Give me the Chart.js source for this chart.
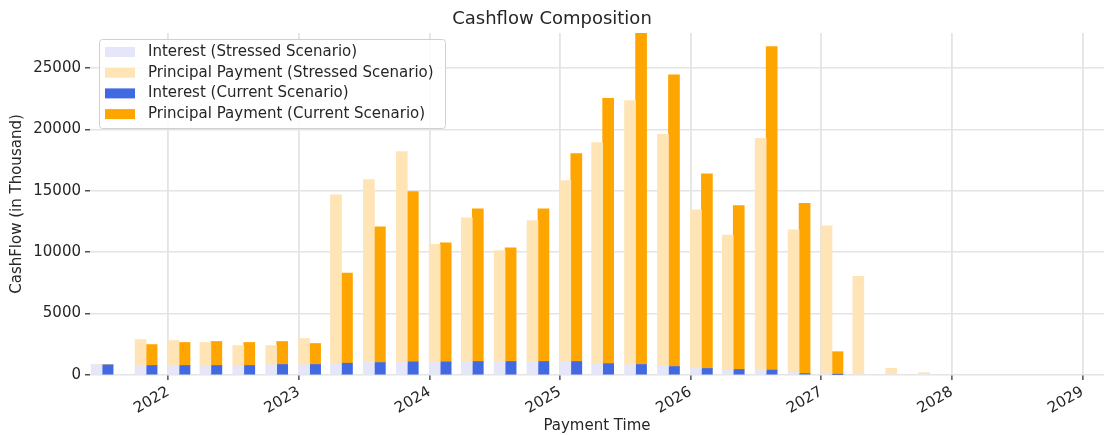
<!DOCTYPE html>
<html>
<head>
<meta charset="utf-8">
<title>Cashflow Composition</title>
<script src="https://cdn.jsdelivr.net/npm/chart.js@4.4.1/dist/chart.umd.min.js"></script>
<style>
  html, body { margin: 0; padding: 0; background: #fff; }
  #wrap { width: 1104px; height: 435px; position: relative; }
</style>
</head>
<body>
<div id="wrap"><canvas id="cf"></canvas></div>
<script>
'use strict';

// ── Data (values in thousand) ─────────────────────────
const stressedDates = [
    '2021-06-30', '2021-10-31', '2022-01-31', '2022-04-30', '2022-07-31', '2022-10-31',
    '2023-01-31', '2023-04-30', '2023-07-31', '2023-10-31', '2024-01-31', '2024-04-30',
    '2024-07-31', '2024-10-31', '2025-01-31', '2025-04-30', '2025-07-31', '2025-10-31',
    '2026-01-31', '2026-04-30', '2026-07-31', '2026-10-31', '2027-01-31', '2027-04-30',
    '2027-07-31', '2027-10-31',
];
const stressedInterest = [
    850, 775, 775, 760, 760, 830, 830, 935, 1015, 1015, 1015, 1040,
    1040, 1040, 1040, 920, 830, 720, 530, 425, 370, 230, 160, 90, 40, 15,
];
const stressedPrincipal = [
    0, 2115, 2035, 1890, 1640, 1570, 2140, 13740, 14905, 17185, 9635, 11760,
    9100, 11540, 14800, 18010, 21520, 18880, 12930, 10960, 18910, 11590, 11990, 7955, 510, 185,
];

const currentDates = stressedDates.slice(0, 23);
const currentInterest = [
    830, 775, 775, 775, 775, 855, 855, 960, 1015, 1070, 1070, 1100,
    1100, 1100, 1100, 920, 855, 690, 530, 450, 400, 120, 40,
];
const currentPrincipal = [
    0, 1705, 1875, 1955, 1875, 1875, 1710, 7330, 11055, 13870, 9695, 12430,
    9255, 12430, 16940, 21620, 27000, 23750, 15850, 13350, 26350, 13850, 1860,
];

const yearTicks  = [2022, 2023, 2024, 2025, 2026, 2027, 2028, 2029];
const valueTicks = [0, 5000, 10000, 15000, 20000, 25000];

// ── Helpers ──────────────────────────────────────────
function toYear(s) {
    const d = new Date(s + 'T00:00:00Z');
    const y = d.getUTCFullYear();
    const start = Date.UTC(y, 0, 1);
    const end = Date.UTC(y + 1, 0, 1);
    return y + (d.getTime() - start) / (end - start);
}

function series(dates, values) {
    return dates.map((d, i) => ({ x: toYear(d), y: values[i] }));
}

const FONT = "'DejaVu Sans', sans-serif";
const TEXT = '#262626';
const GRID = '#e4e4e4';

// Legend drawn inside the plot, matplotlib style
const innerLegend = {
    id: 'innerLegend',
    afterDraw(chart) {
        const ctx = chart.ctx;
        const x0 = 99.5, y0 = 39.5, w = 346, h = 89;
        ctx.save();
        ctx.fillStyle = 'rgba(255,255,255,0.85)';
        ctx.strokeStyle = '#d0d0d0';
        ctx.lineWidth = 1;
        ctx.beginPath();
        ctx.roundRect(x0, y0, w, h, 3);
        ctx.fill();
        ctx.stroke();
        ctx.font = '15px ' + FONT;
        ctx.textBaseline = 'middle';
        chart.data.datasets.forEach((ds, i) => {
            const cy = 52 + i * 20.7;
            ctx.fillStyle = ds.backgroundColor;
            ctx.fillRect(105, cy - 5, 30, 10);
            ctx.fillStyle = TEXT;
            ctx.fillText(ds.label, 148, cy);
        });
        ctx.restore();
    },
};

new Chart(document.getElementById('cf'), {
    type: 'bar',
    data: {
        datasets: [
            { label: 'Interest (Stressed Scenario)', data: series(stressedDates, stressedInterest),
              backgroundColor: '#e6e6fa', stack: 'stressed' },
            { label: 'Principal Payment (Stressed Scenario)', data: series(stressedDates, stressedPrincipal),
              backgroundColor: '#ffe4b5', stack: 'stressed' },
            { label: 'Interest (Current Scenario)', data: series(currentDates, currentInterest),
              backgroundColor: '#4169e1', stack: 'current' },
            { label: 'Principal Payment (Current Scenario)', data: series(currentDates, currentPrincipal),
              backgroundColor: '#ffa500', stack: 'current' },
        ],
    },
    options: {
        responsive: true,
        maintainAspectRatio: false,
        animation: false,
        barThickness: 11,
        layout: { padding: 0 },
        plugins: {
            legend: { display: false },
            tooltip: { enabled: false },
            title: {
                display: true, text: 'Cashflow Composition', color: TEXT,
                font: { family: FONT, size: 18, weight: 'normal' },
                padding: { top: 9, bottom: 2.4 },
            },
        },
        scales: {
            x: {
                type: 'linear',
                offset: false,
                min: 2021.4005, max: 2029.165,
                afterBuildTicks: axis => { axis.ticks = yearTicks.map(v => ({ value: v })); },
                afterFit: axis => { axis.height = 60; },
                border: { display: false },
                grid: { offset: false, color: GRID, lineWidth: 1.8, tickColor: TEXT, tickLength: 5, tickWidth: 1.2 },
                ticks: {
                    color: TEXT, font: { family: FONT, size: 15 }, padding: 3,
                    maxRotation: 30, minRotation: 30, autoSkip: false,
                    callback: v => String(v),
                },
                title: {
                    display: true, text: 'Payment Time', color: TEXT,
                    font: { family: FONT, size: 15 }, padding: { top: 0, bottom: 0 },
                },
            },
            y: {
                stacked: true,
                min: 0, max: 27850,
                afterBuildTicks: axis => { axis.ticks = valueTicks.map(v => ({ value: v })); },
                afterFit: axis => { axis.width = 90; },
                border: { display: false },
                grid: { color: GRID, lineWidth: 1.6, tickColor: TEXT, tickLength: 5, tickWidth: 1.2 },
                ticks: { color: TEXT, font: { family: FONT, size: 15 }, padding: 4, callback: v => String(v) },
                title: {
                    display: true, text: 'CashFlow (in Thousand)', color: TEXT,
                    font: { family: FONT, size: 15 }, padding: { top: 8, bottom: 0 },
                },
            },
        },
    },
    plugins: [innerLegend],
});
</script>
</body>
</html>
